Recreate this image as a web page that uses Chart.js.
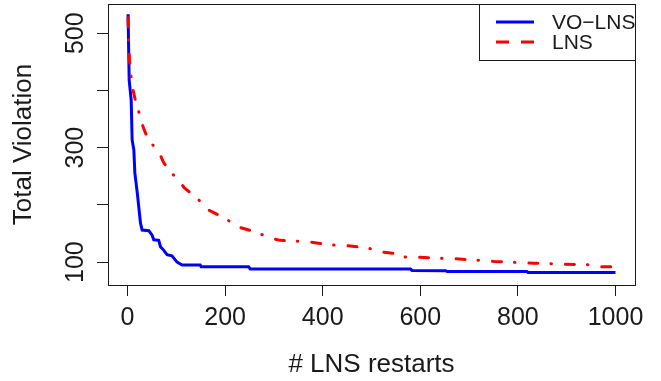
<!DOCTYPE html>
<html>
<head>
<meta charset="utf-8">
<script src="https://cdn.jsdelivr.net/npm/chart.js@4"></script>
<style>
  html, body { margin: 0; padding: 0; background: #fff; }
  #wrap { width: 661px; height: 381px; }
</style>
</head>
<body>
<div id="wrap"><canvas id="chart" width="661" height="381"></canvas></div>
<script>
// restarts (x) and total violation (y)
const restartsVO = [1, 1.4, 3.4, 7.5, 9.5, 13, 15, 20, 26.6, 30, 43.6, 50.4, 53.8, 64, 67.5, 74, 81, 91, 101.6, 112, 149, 151, 248, 251.5, 580, 583, 652, 655, 818, 821, 1000];
const violationVO = [533, 520, 418, 383, 313, 296, 256, 221, 168, 156, 155, 147, 139, 138, 127, 121, 113, 111, 100, 95, 95, 92, 92, 88, 88, 85.5, 85, 83.5, 83.5, 82, 82];

const restartsLNS = [1, 2, 3, 4, 7, 10, 16, 24, 29, 38, 50, 58, 64, 74, 89, 103, 116, 135, 148, 164, 185, 202, 221, 245, 265, 289, 313, 335, 366, 391, 415, 444, 470, 495, 519, 548, 556, 565, 594, 620, 647, 674, 701, 725, 752, 783, 805, 832, 861, 887, 916, 947, 967, 1000];
const violationLNS = [527, 500, 470, 453, 426, 406, 383, 360, 343, 323, 306, 300, 293, 274, 256, 246, 230, 217, 207, 192, 183, 176, 163, 157, 152, 143, 138, 137, 136, 133, 130, 129, 127, 124, 118, 115, 112, 109, 108.5, 107.5, 106.5, 106, 104, 103, 101, 100, 99, 98, 97.5, 96.5, 96, 95.5, 92, 92];

const seriesNames = ['VO\u2212LNS', 'LNS'];
const xTicks = [0, 200, 400, 600, 800, 1000];
const yTicks = [100, 200, 300, 400, 500];
const yTickLabels = ['100', '300', '500'];

const FONT = 'Liberation Sans, Arial, Helvetica, sans-serif';
const INK = '#1a1a1a';

const toPoints = (xs, ys) => xs.map((x, i) => ({ x: x, y: ys[i] }));

// R style: full box round the plot, rotated y labels, legend in top right corner
const rPlot = {
  id: 'rPlot',
  afterDraw(chart) {
    const ctx = chart.ctx;
    const a = chart.chartArea;
    ctx.save();
    ctx.strokeStyle = INK;
    ctx.lineWidth = 1;
    ctx.strokeRect(Math.round(a.left) + 0.5, Math.round(a.top) + 0.5,
      Math.round(a.right - a.left), Math.round(a.bottom - a.top));

    // y tick labels, vertical like R's default las=0
    const ys = chart.scales.y;
    ctx.fillStyle = INK;
    ctx.font = '25px ' + FONT;
    ctx.textAlign = 'center';
    ctx.textBaseline = 'middle';
    ys.ticks.forEach(t => {
      const lab = String(t.value);
      if (!yTickLabels.includes(lab)) return;
      const py = ys.getPixelForValue(t.value);
      ctx.save();
      ctx.translate(76, py);
      ctx.rotate(-Math.PI / 2);
      ctx.fillText(lab, 0, 0);
      ctx.restore();
    });

    // legend
    const bw = 156, bh = 56;
    const bx = Math.round(a.right) - bw, by = Math.round(a.top);
    ctx.fillStyle = '#fff';
    ctx.fillRect(bx, by, bw, bh);
    ctx.strokeStyle = INK;
    ctx.strokeRect(bx + 0.5, by + 0.5, bw, bh);
    ctx.font = '21px ' + FONT;
    chart.data.datasets.forEach((ds, i) => {
      const ly = by + 18 + i * 20;
      ctx.beginPath();
      ctx.strokeStyle = ds.borderColor;
      ctx.lineWidth = 3;
      ctx.lineCap = 'butt';
      ctx.setLineDash(i === 0 ? [] : [13, 12]);
      ctx.moveTo(bx + 17, ly);
      ctx.lineTo(bx + 55, ly);
      ctx.stroke();
      ctx.setLineDash([]);
      ctx.fillStyle = INK;
      ctx.textAlign = 'left';
      ctx.fillText(ds.label, bx + 73, ly + 1);
    });
    ctx.restore();
  }
};

new Chart(document.getElementById('chart'), {
  type: 'line',
  data: {
    datasets: [
      {
        label: seriesNames[0],
        data: toPoints(restartsVO, violationVO),
        borderColor: '#0000ff',
        borderWidth: 3,
        pointRadius: 0,
        tension: 0,
        order: 1
      },
      {
        label: seriesNames[1],
        data: toPoints(restartsLNS, violationLNS),
        borderColor: '#ff0000',
        borderWidth: 3,
        borderDash: [9, 13, 0.5, 14],
        borderCapStyle: 'round',
        pointRadius: 0,
        tension: 0,
        order: 0
      }
    ]
  },
  options: {
    responsive: false,
    animation: false,
    devicePixelRatio: 1,
    layout: { padding: { top: 4, right: 26, left: 0, bottom: 0 } },
    plugins: { legend: { display: false }, tooltip: { enabled: false } },
    scales: {
      x: {
        type: 'linear',
        min: -40,
        max: 1040,
        afterBuildTicks: s => { s.ticks = xTicks.map(v => ({ value: v })); },
        afterFit: s => { s.height = 96; s.paddingLeft = 0; s.paddingRight = 0; },
        grid: { drawOnChartArea: false, drawTicks: true, tickLength: 11, color: INK },
        border: { display: true, color: INK },
        ticks: { color: INK, padding: 7, maxRotation: 0, callback: v => String(v),
                 font: { family: FONT, size: 25 } },
        title: { display: true, text: '# LNS restarts', color: INK, padding: { top: 0, bottom: 3 },
                 font: { family: FONT, size: 26, lineHeight: 1 } }
      },
      y: {
        type: 'linear',
        min: 60,
        max: 551,
        afterBuildTicks: s => { s.ticks = yTicks.map(v => ({ value: v })); },
        afterFit: s => { s.width = 108; s.paddingTop = 0; s.paddingBottom = 0; },
        grid: { drawOnChartArea: false, drawTicks: true, tickLength: 11, color: INK },
        border: { display: true, color: INK },
        ticks: { display: false },
        title: { display: true, text: 'Total Violation', color: INK, padding: { top: 11, bottom: 0 },
                 font: { family: FONT, size: 26, lineHeight: 1 } }
      }
    }
  },
  plugins: [rPlot]
});
</script>
</body>
</html>
